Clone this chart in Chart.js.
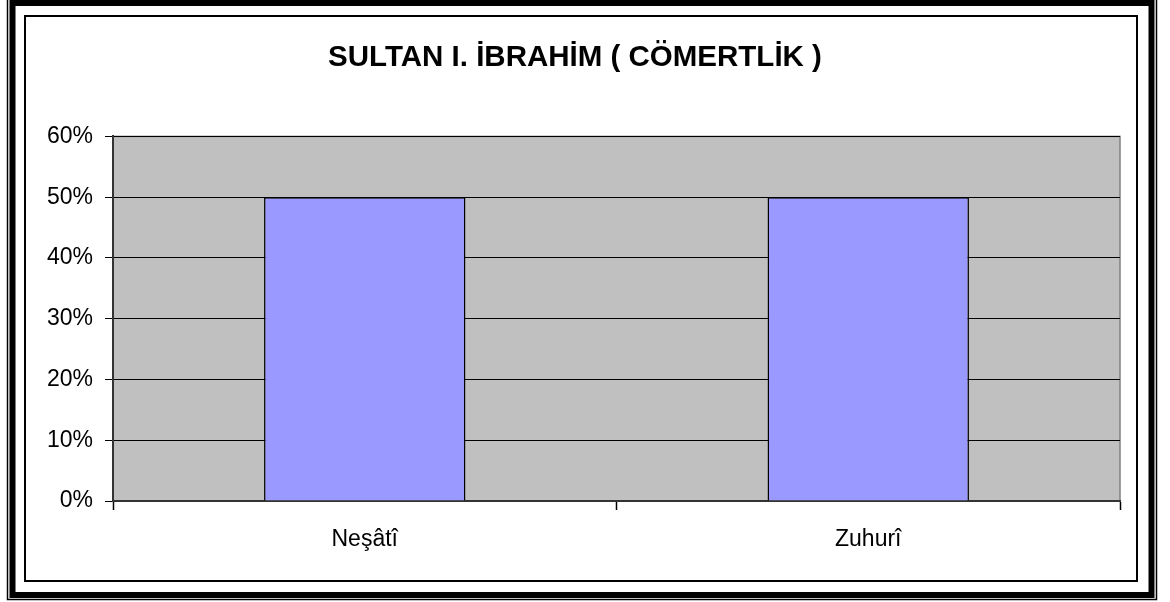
<!DOCTYPE html>
<html>
<head>
<meta charset="utf-8">
<script src="https://cdn.jsdelivr.net/npm/chart.js@4/dist/chart.umd.min.js"></script>
<style>
  html, body { margin: 0; padding: 0; background: #fff; }
  #wrap { width: 1170px; height: 602px; }
</style>
</head>
<body>
<div id="wrap"><canvas id="c" width="1170" height="602"></canvas></div>
<script>
const title = "SULTAN I. İBRAHİM ( CÖMERTLİK )";
const categories = ["Neşâtî", "Zuhurî"];
const values = [50, 50];
const yTicks = [0, 10, 20, 30, 40, 50, 60];

const FONT = "Liberation Sans, Arial, sans-serif";

// frame + grey plot area
const framePlugin = {
  id: "frame",
  beforeDraw(chart) {
    const ctx = chart.ctx;
    const a = chart.chartArea;
    ctx.save();
    ctx.fillStyle = "#fff";
    ctx.fillRect(0, 0, chart.width, chart.height);
    ctx.strokeStyle = "#000";
    ctx.lineWidth = 1.5;
    ctx.strokeRect(7.5, -3, 1149, 602.5);
    ctx.lineWidth = 6;
    ctx.strokeRect(12.5, 3, 1139, 592);
    ctx.lineWidth = 2;
    ctx.strokeRect(25, 16, 1112, 565);
    ctx.fillStyle = "#c0c0c0";
    ctx.fillRect(a.left, a.top, a.right - a.left, a.bottom - a.top);
    ctx.strokeStyle = "#808080";
    ctx.lineWidth = 1.5;
    ctx.strokeRect(a.left, a.top, a.right - a.left, a.bottom - a.top);
    ctx.restore();
  }
};

new Chart(document.getElementById("c"), {
  type: "bar",
  data: {
    labels: categories,
    datasets: [{
      data: values,
      backgroundColor: "#9999ff",
      borderColor: "#000",
      borderWidth: 1.5,
      barPercentage: 0.4,
      categoryPercentage: 1
    }]
  },
  options: {
    responsive: false,
    animation: false,
    layout: { padding: { left: 30, right: 50, top: 0, bottom: 40 } },
    plugins: {
      legend: { display: false },
      tooltip: { enabled: false },
      title: {
        display: true,
        text: title,
        color: "#000",
        font: { family: FONT, size: 29.5, weight: "bold", lineHeight: 1.2 },
        padding: { top: 40, bottom: 61 }
      }
    },
    scales: {
      x: {
        grid: { offset: true, drawOnChartArea: false, drawTicks: true, tickLength: 9, color: "#000", tickWidth: 1.5 },
        border: { color: "#333", width: 2 },
        ticks: { color: "#000", padding: 16, font: { family: FONT, size: 23 } },
        afterFit(s) { s.height = 61; }
      },
      y: {
        min: 0, max: 60,
        afterBuildTicks(s) { s.ticks = yTicks.map(v => ({ value: v })); },
        grid: { color: "#000", lineWidth: 1, tickLength: 8, tickColor: "#000" },
        border: { color: "#333", width: 2 },
        ticks: {
          color: "#000", padding: 12,
          font: { family: FONT, size: 23 },
          callback: v => v + "%"
        },
        afterFit(s) { s.width = 83; }
      }
    }
  },
  plugins: [framePlugin]
});
</script>
</body>
</html>
